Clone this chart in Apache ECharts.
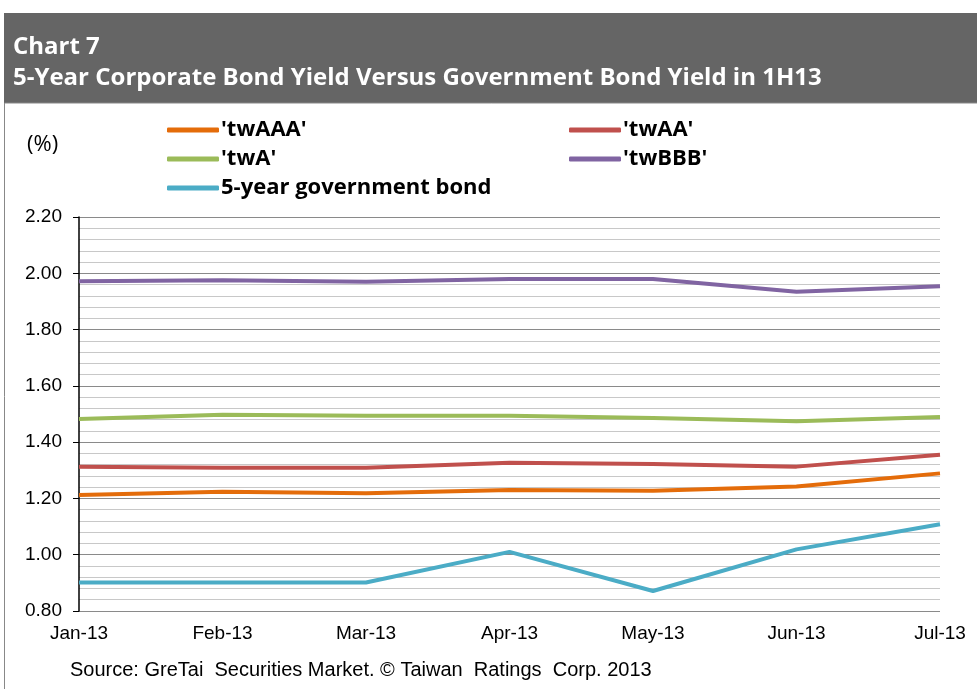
<!DOCTYPE html>
<html>
<head>
<meta charset="utf-8">
<script src="https://cdn.jsdelivr.net/npm/echarts@6/dist/echarts.min.js"></script>
<style>html,body{margin:0;padding:0;background:#fff;}#c{width:977px;height:689px;}</style>
</head>
<body>
<div id="c"></div>
<script>
const categories = ['Jan-13','Feb-13','Mar-13','Apr-13','May-13','Jun-13','Jul-13'];
const twAAA = [1.212, 1.224, 1.218, 1.230, 1.227, 1.242, 1.289];
const twAA  = [1.313, 1.309, 1.309, 1.327, 1.322, 1.313, 1.355];
const twA   = [1.482, 1.497, 1.494, 1.494, 1.486, 1.474, 1.489];
const twBBB = [1.972, 1.975, 1.970, 1.980, 1.980, 1.934, 1.954];
const gov5y = [0.901, 0.901, 0.901, 1.010, 0.871, 1.019, 1.108];
const seriesNames = ["'twAAA'", "'twAA'", "'twA'", "'twBBB'", '5-year government bond'];
const colors = ['#E46C0A', '#C0504D', '#9BBB59', '#8064A2', '#4BACC6'];
const yTicks = { min: 0.8, max: 2.2, interval: 0.2 };

const chart = echarts.init(document.getElementById('c'));
const legendBase = {
  orient: 'horizontal', icon: 'roundRect', itemWidth: 52, itemHeight: 5, itemGap: 0, padding: 0,
  textStyle: { fontFamily: 'Open Sans', fontWeight: 'bold', fontSize: 22, color: '#000', padding: [0,0,0,-3] },
  selectedMode: false
};
const legPos = [
  { left: 167, top: 119 }, { left: 569, top: 119 },
  { left: 167, top: 148 }, { left: 569, top: 148 },
  { left: 167, top: 177 }
];
const allData = [twAAA, twAA, twA, twBBB, gov5y];

chart.setOption({
  animation: false,
  graphic: [
    { type: 'rect', shape: { x: 4, y: 13, width: 973, height: 90 }, style: { fill: '#656565' }, z: 0 },
    { type: 'rect', shape: { x: 4.5, y: 103, width: 990, height: 600 }, style: { fill: 'none', stroke: '#888', lineWidth: 1 }, z: 0 }
  ],
  title: [
    { text: 'Chart 7', left: 8, top: 30, textStyle: { color: '#fff', fontFamily: 'Open Sans', fontWeight: 'bold', fontSize: 24 } },
    { text: '5-Year Corporate Bond Yield Versus Government Bond Yield in 1H13', left: 8, top: 61, textStyle: { color: '#fff', fontFamily: 'Open Sans', fontWeight: 'bold', fontSize: 24 } },
    { text: '(%)', left: 22, top: 129, textStyle: { color: '#000', fontFamily: 'Open Sans', fontWeight: 'normal', fontSize: 22 } },
    { text: 'Source: GreTai  Securities Market. © Taiwan  Ratings  Corp. 2013', left: 65, top: 655, textStyle: { color: '#000', fontFamily: 'Liberation Sans', fontWeight: 'normal', fontSize: 20 } }
  ],
  legend: seriesNames.map((n, i) => Object.assign({}, legendBase, legPos[i], { data: [n] })),
  grid: { left: 79, right: 37, top: 217, bottom: 78 },
  xAxis: {
    type: 'category', data: categories, boundaryGap: false,
    axisLine: { show: false }, axisTick: { show: false },
    axisLabel: { color: '#000', fontFamily: 'Liberation Sans', fontSize: 19, margin: 13 },
    splitLine: { show: false }
  },
  yAxis: {
    type: 'value', min: yTicks.min, max: yTicks.max, interval: yTicks.interval,
    axisLine: { show: true, lineStyle: { color: '#000', width: 1.5 } },
    axisTick: { show: true, length: 6, lineStyle: { color: '#000' } },
    axisLabel: { color: '#000', fontFamily: 'Liberation Sans', fontSize: 19, margin: 17, formatter: v => v.toFixed(2) },
    splitLine: { show: true, lineStyle: { color: '#8a8a8a', width: 1.2 } },
    minorTick: { show: false, splitNumber: 5 },
    minorSplitLine: { show: true, lineStyle: { color: '#c8c8c8', width: 1.2 } }
  },
  series: seriesNames.map((n, i) => ({
    name: n, type: 'line', data: allData[i], symbol: 'none',
    lineStyle: { color: colors[i], width: 4 }, itemStyle: { color: colors[i] }
  }))
});
</script>
</body>
</html>
